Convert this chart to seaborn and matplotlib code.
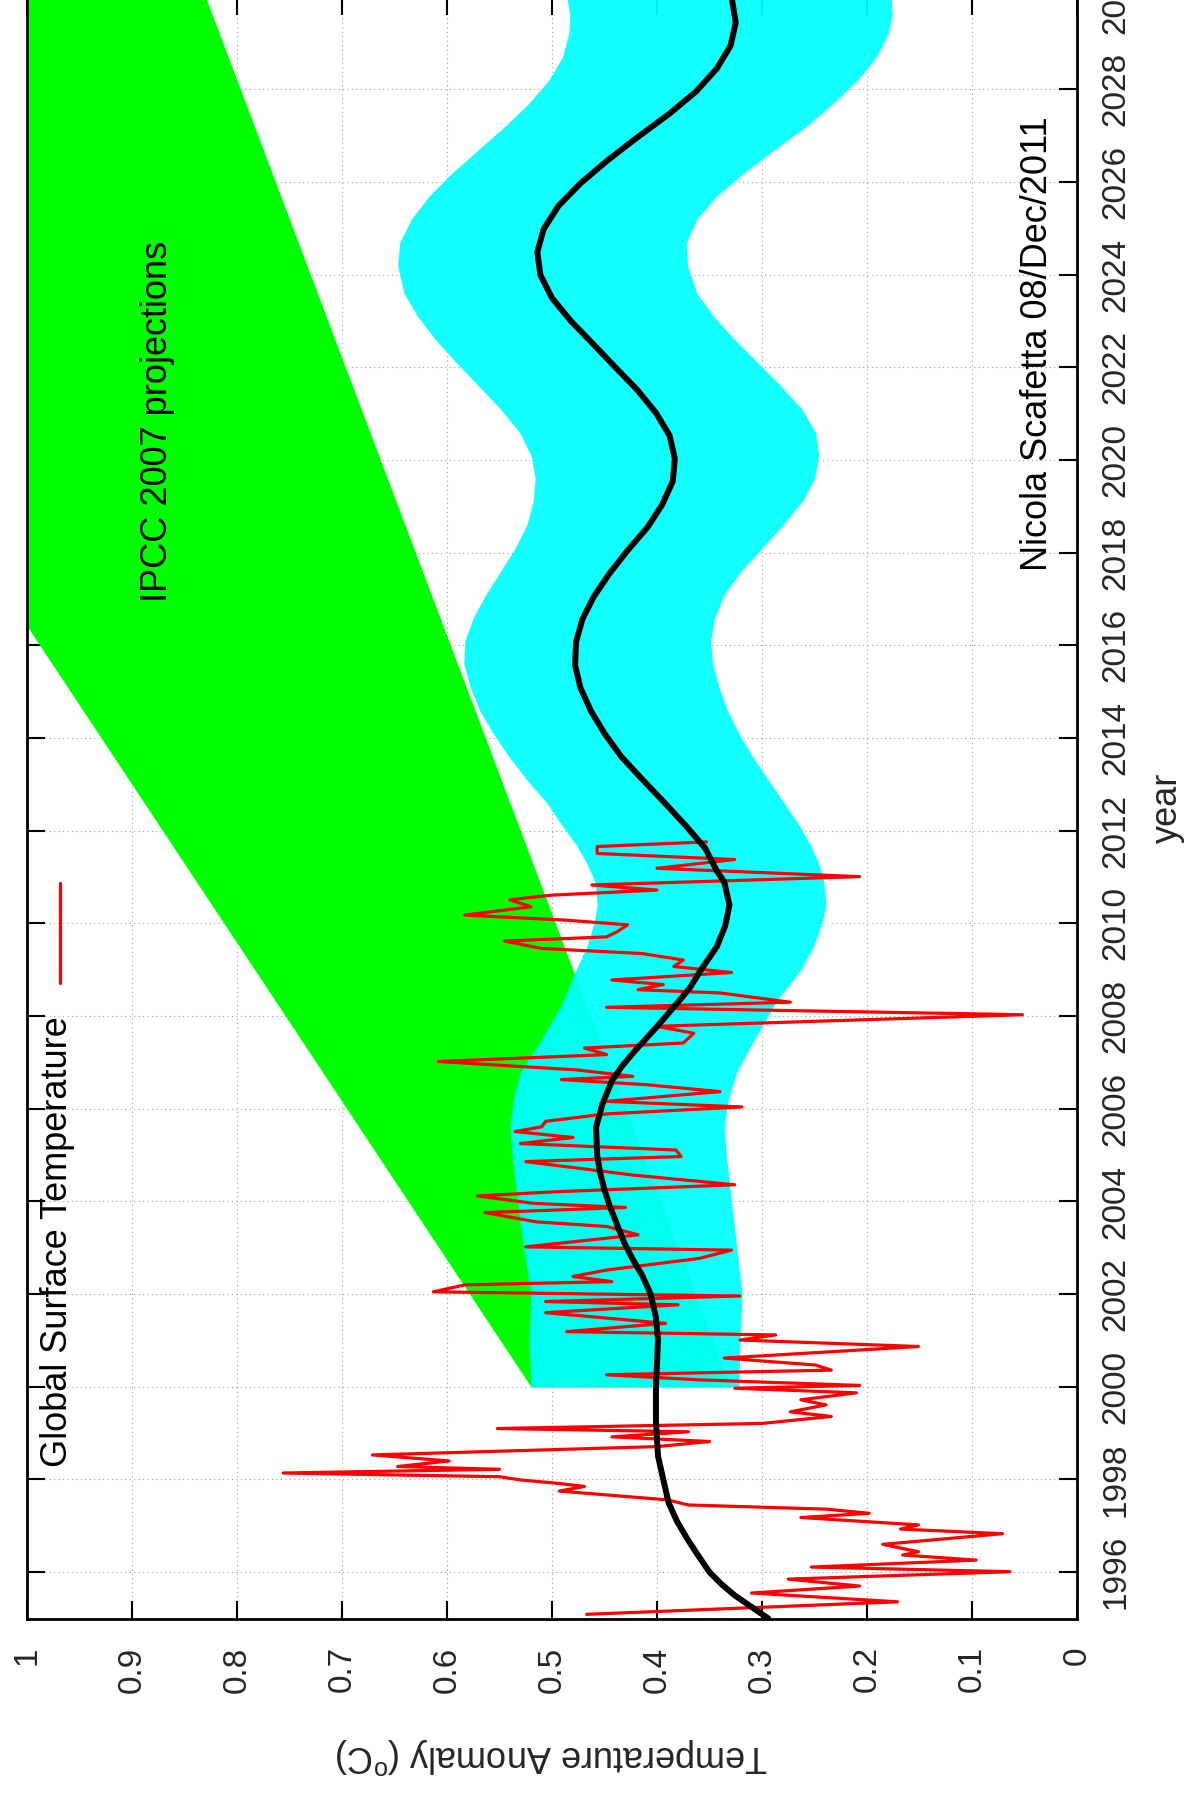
import numpy as np
import pandas as pd
import matplotlib
matplotlib.use("Agg")
import matplotlib.pyplot as plt
import seaborn as sns

# ---------------- data ----------------
# Global surface temperature anomaly (red line): time (year) and value (deg C)
gst_years = [1995.09, 1995.36, 1995.55, 1995.70, 1995.85, 1996.01, 1996.11, 1996.26,
             1996.37, 1996.44, 1996.60, 1996.83, 1996.93, 1997.02, 1997.18, 1997.27,
             1997.36, 1997.45, 1997.56, 1997.75, 1997.85, 1997.92, 1997.99, 1998.06,
             1998.14, 1998.22, 1998.28, 1998.40, 1998.53, 1998.71, 1998.82, 1998.92,
             1999.03, 1999.10, 1999.21, 1999.36, 1999.46, 1999.61, 1999.72, 1999.87,
             1999.97, 2000.03, 2000.15, 2000.26, 2000.36, 2000.47, 2000.62, 2000.87,
             2001.01, 2001.12, 2001.19, 2001.37, 2001.60, 2001.77, 2001.84, 2001.96,
             2002.05, 2002.20, 2002.27, 2002.38, 2002.52, 2002.77, 2002.95, 2003.02,
             2003.28, 2003.46, 2003.56, 2003.76, 2003.87, 2003.96, 2004.12, 2004.21,
             2004.36, 2004.57, 2004.86, 2004.97, 2005.11, 2005.25, 2005.38, 2005.51,
             2005.61, 2005.73, 2005.89, 2006.04, 2006.16, 2006.37, 2006.52, 2006.63,
             2006.70, 2006.84, 2007.02, 2007.17, 2007.31, 2007.42, 2007.63, 2007.78,
             2008.03, 2008.19, 2008.30, 2008.50, 2008.57, 2008.68, 2008.78, 2008.94,
             2009.07, 2009.21, 2009.35, 2009.46, 2009.62, 2009.71, 2009.82, 2009.97,
             2010.07, 2010.18, 2010.36, 2010.51, 2010.61, 2010.72, 2010.83, 2011.01,
             2011.19, 2011.38, 2011.51, 2011.66, 2011.76]
gst_values = [0.467, 0.171, 0.310, 0.207, 0.275, 0.064, 0.253, 0.096,
              0.166, 0.151, 0.185, 0.071, 0.168, 0.151, 0.263, 0.198,
              0.239, 0.370, 0.390, 0.493, 0.469, 0.496, 0.530, 0.550,
              0.756, 0.550, 0.647, 0.598, 0.671, 0.400, 0.350, 0.443,
              0.370, 0.552, 0.300, 0.234, 0.273, 0.239, 0.263, 0.210,
              0.326, 0.207, 0.360, 0.448, 0.234, 0.249, 0.336, 0.151,
              0.321, 0.287, 0.486, 0.392, 0.506, 0.380, 0.506, 0.321,
              0.613, 0.583, 0.443, 0.480, 0.448, 0.360, 0.329, 0.525,
              0.418, 0.448, 0.515, 0.564, 0.430, 0.518, 0.571, 0.496,
              0.326, 0.423, 0.525, 0.377, 0.382, 0.530, 0.480, 0.535,
              0.510, 0.506, 0.448, 0.319, 0.448, 0.340, 0.410, 0.491,
              0.423, 0.477, 0.608, 0.448, 0.469, 0.375, 0.365, 0.400,
              0.052, 0.448, 0.273, 0.340, 0.418, 0.394, 0.443, 0.329,
              0.384, 0.375, 0.414, 0.510, 0.545, 0.448, 0.438, 0.428,
              0.486, 0.583, 0.520, 0.540, 0.501, 0.400, 0.462, 0.207,
              0.400, 0.326, 0.457, 0.457, 0.353]

# Scafetta model (black curve)
model_years = [1995.0, 1995.25, 1995.5, 1995.75, 1996.0, 1996.4, 1996.75, 1997.1,
               1997.5, 1998.0, 1998.5, 1999.25, 2000.0, 2000.5, 2001.0, 2001.5,
               2002.0, 2002.4, 2002.75, 2003.1, 2003.5, 2003.9, 2004.25, 2004.6,
               2005.0, 2005.6, 2006.1, 2006.6, 2006.9, 2007.2, 2007.5, 2007.8,
               2008.3, 2008.6, 2009.0, 2009.5, 2009.95, 2010.4, 2010.9, 2011.13,
               2011.62, 2012.12, 2012.61, 2013.11, 2013.6, 2014.1, 2014.59, 2015.09,
               2015.58, 2016.08, 2016.57, 2017.06, 2017.56, 2018.05, 2018.55, 2019.04,
               2019.54, 2020.03, 2020.53, 2021.02, 2021.52, 2022.01, 2022.51, 2023.0,
               2023.5, 2023.99, 2024.49, 2024.98, 2025.48, 2025.97, 2026.47, 2026.96,
               2027.46, 2027.95, 2028.45, 2028.94, 2029.44, 2030.0]
model_values = [0.294, 0.310, 0.326, 0.339, 0.350, 0.362, 0.372, 0.381,
                0.389, 0.394, 0.399, 0.401, 0.401, 0.400, 0.399, 0.401,
                0.406, 0.414, 0.423, 0.431, 0.438, 0.445, 0.450, 0.454,
                0.457, 0.458, 0.452, 0.443, 0.434, 0.423, 0.411, 0.399,
                0.380, 0.369, 0.358, 0.343, 0.335, 0.331, 0.336, 0.343,
                0.354, 0.373, 0.393, 0.414, 0.434, 0.450, 0.463, 0.473,
                0.478, 0.477, 0.471, 0.460, 0.445, 0.428, 0.409, 0.395,
                0.385, 0.383, 0.388, 0.401, 0.419, 0.440, 0.461, 0.482,
                0.500, 0.511, 0.514, 0.508, 0.494, 0.473, 0.447, 0.419,
                0.389, 0.363, 0.343, 0.330, 0.325, 0.329]

# Model uncertainty band (cyan)
band_years = [2000.0, 2001.0, 2002.0, 2003.0, 2004.0, 2005.0, 2005.6, 2006.2,
              2006.8, 2007.5, 2008.3, 2009.0, 2009.5, 2010.0, 2010.4, 2010.9,
              2011.3, 2011.7, 2012.1, 2012.6, 2013.1, 2013.6, 2014.1, 2014.6,
              2015.1, 2015.6, 2016.1, 2016.6, 2017.1, 2017.6, 2018.1, 2018.6,
              2019.1, 2019.6, 2020.1, 2020.6, 2021.1, 2021.6, 2022.1, 2022.6,
              2023.1, 2023.6, 2024.2, 2024.7, 2025.2, 2025.7, 2026.2, 2026.7,
              2027.2, 2027.7, 2028.2, 2028.7, 2029.2, 2029.6, 2030.0]
band_high = [0.520, 0.522, 0.520, 0.527, 0.533, 0.538, 0.540, 0.537,
             0.530, 0.510, 0.490, 0.477, 0.467, 0.460, 0.457, 0.459,
             0.467, 0.477, 0.490, 0.505, 0.524, 0.541, 0.556, 0.569,
             0.578, 0.584, 0.583, 0.575, 0.563, 0.549, 0.535, 0.524,
             0.518, 0.516, 0.520, 0.531, 0.549, 0.570, 0.591, 0.611,
             0.628, 0.641, 0.647, 0.645, 0.634, 0.617, 0.595, 0.570,
             0.545, 0.522, 0.503, 0.490, 0.484, 0.483, 0.486]
band_low = [0.322, 0.321, 0.319, 0.324, 0.329, 0.334, 0.336, 0.332,
            0.324, 0.307, 0.287, 0.263, 0.251, 0.243, 0.239, 0.241,
            0.246, 0.254, 0.264, 0.279, 0.294, 0.309, 0.322, 0.333,
            0.341, 0.347, 0.349, 0.345, 0.336, 0.320, 0.300, 0.280,
            0.262, 0.250, 0.246, 0.249, 0.262, 0.282, 0.304, 0.326,
            0.346, 0.362, 0.371, 0.372, 0.362, 0.343, 0.317, 0.288,
            0.258, 0.232, 0.209, 0.191, 0.180, 0.176, 0.177]

# IPCC 2007 projection envelope (green)
ipcc_years = [2000.0, 2030.0]
ipcc_low = [0.33, 0.83]
ipcc_high = [0.52, 1.397]

temp_ticks = [0, 0.1, 0.2, 0.3, 0.4, 0.5, 0.6, 0.7, 0.8, 0.9, 1]
temp_labels = ["0", "0.1", "0.2", "0.3", "0.4", "0.5", "0.6", "0.7", "0.8", "0.9", "1"]
year_ticks = list(range(1996, 2031, 2))
year_labels = [str(y) for y in year_ticks]

# ---------------- style ----------------
sns.set_theme(style="white")
plt.rcParams['font.family'] = ['Liberation Sans', 'DejaVu Sans']
plt.rcParams['mathtext.fontset'] = 'custom'
plt.rcParams['mathtext.rm'] = 'Liberation Sans'
plt.rcParams['mathtext.it'] = 'Liberation Sans'
plt.rcParams['text.color'] = 'black'

W, H = 1192, 1798
fig = plt.figure(figsize=(W / 100, H / 100), dpi=100)
fig.patch.set_facecolor('white')
ax = fig.add_axes([27 / W, (H - 1618.5) / H, 1050 / W, 1621.8 / H])
ax.set_facecolor('white')

# fills
ax.fill_betweenx(ipcc_years, ipcc_low, ipcc_high, color='#00ff00', lw=0, zorder=1)
ax.fill_betweenx(band_years, band_low, band_high, color='#00ffff', alpha=0.93, lw=0, zorder=2)

# lines
gst = pd.DataFrame({"year": gst_years, "temp": gst_values})
model = pd.DataFrame({"year": model_years, "temp": model_values})
sns.lineplot(data=gst, x="temp", y="year", orient="y", sort=False, estimator=None,
             color='#ff0000', lw=2.3, ax=ax, zorder=3)
sns.lineplot(data=model, x="temp", y="year", orient="y", sort=False, estimator=None,
             color='black', lw=4.3, ax=ax, zorder=4)
ax.lines[-1].set_solid_joinstyle('round')

ax.set_xlim(1, 0)
ax.set_ylim(1995, 2030)

# grid
ax.set_axisbelow(True)
ax.grid(True, color='#a0a0a0', linestyle=(0, (1, 3)), linewidth=0.8)

# ticks
ax.set_xticks(temp_ticks, temp_labels, rotation=90, fontsize=24)
ax.set_yticks(year_ticks, year_labels, rotation=90, fontsize=24, va='center')
ax.tick_params(axis='both', direction='in', length=13, width=1.5, color='black',
               top=True, right=True, left=True, bottom=True,
               labelleft=False, labelright=True)
ax.tick_params(axis='x', pad=20)
ax.tick_params(axis='y', pad=17)
for lab in ax.get_yticklabels():
    lab.set_verticalalignment('center')
    lab.set_horizontalalignment('left')

for sp in ax.spines.values():
    sp.set_color('black')
    sp.set_linewidth(2.0)
    sp.set_visible(True)

# axis labels
ax.set_xlabel('Temperature Anomaly ($^{\\rm o}$C)', fontsize=26, rotation=180)
ax.xaxis.label.set_rotation_mode('anchor')
ax.xaxis.label.set_verticalalignment('center')
ax.xaxis.label.set_horizontalalignment('center')
ax.xaxis.set_label_coords(0.5, -0.085)

ax.set_ylabel('year', fontsize=26, rotation=90)
ax.yaxis.set_label_position('right')
ax.yaxis.label.set_rotation_mode('anchor')
ax.yaxis.label.set_verticalalignment('center')
ax.yaxis.label.set_horizontalalignment('center')
ax.yaxis.set_label_coords(1.0857, 0.5)

# annotations
ax.text(0.124, 0.627, 'IPCC 2007 projections', rotation=90, ha='center', va='bottom',
        fontsize=26, transform=ax.transAxes, zorder=6)
ax.text(0.962, 0.646, 'Nicola Scafetta 08/Dec/2011', rotation=90, ha='center', va='bottom',
        fontsize=26, transform=ax.transAxes, zorder=6)

# legend (rotated, drawn by hand like the reference)
ax.text(0.0295, 0.0934, 'Global Surface Temperature', rotation=90, ha='center', va='bottom',
        fontsize=26, transform=ax.transAxes, zorder=6)
ax.plot([0.0314, 0.0314], [0.392, 0.4535], transform=ax.transAxes, color='#ff0000',
        lw=2.3, zorder=6, clip_on=False)

fig.savefig('out.png', dpi=100, facecolor='white')
